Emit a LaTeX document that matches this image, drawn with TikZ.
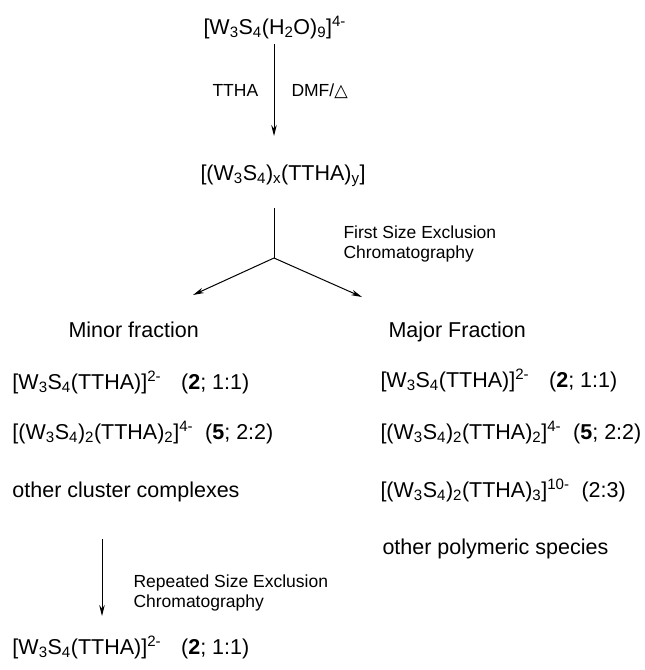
\documentclass[tikz,border=0pt]{standalone}
\usepackage{fontspec}
\setmainfont{Liberation Sans}
\newfontfamily\symfont{DejaVu Sans}
\usetikzlibrary{arrows.meta}

\newcommand{\chsub}[1]{\textsubscript{#1}}
\newcommand{\chsup}[1]{\textsuperscript{#1}}

\tikzset{
  txt/.style={anchor=base west, inner sep=0pt},
  lbl/.style={txt, font=\fontsize{17.5}{20}\selectfont},
  arr/.style={-{Stealth[length=11pt,width=5.5pt]}}
}

\begin{document}
\begin{tikzpicture}[x=1pt, y=-1pt, font=\fontsize{21.5}{25}\selectfont, line width=1pt]
  \useasboundingbox (0,0) rectangle (645,670);

  % reaction
  \node[txt] (aqua) at (203,34) {[W\chsub{3}S\chsub{4}(H\chsub{2}O)\chsub{9}]\chsup{4-}};
  \coordinate (react) at (274,44);
  \coordinate (formed) at (274,136);
  \draw[arr] (react) -- (formed);
  \node[lbl] (ligand) at (212,96) {TTHA};
  \node[lbl] (cond) at (291,96) {DMF/{\symfont △}};

  \node[txt] (mix) at (200,180) {[(W\chsub{3}S\chsub{4})\chsub{x}(TTHA)\chsub{y}]};

  % first separation
  \coordinate (stem) at (274,208);
  \coordinate (fork) at (274,258);
  \coordinate (tominor) at (193,295);
  \coordinate (tomajor) at (362,297);
  \draw (stem) -- (fork);
  \draw[arr] (fork) -- (tominor);
  \draw[arr] (fork) -- (tomajor);
  \node[lbl] (sec1a) at (343,238) {First Size Exclusion};
  \node[lbl] (sec1b) at (343,258) {Chromatography};

  % minor fraction
  \node[txt] (minor) at (68,337) {Minor fraction};
  \node[txt] (mi1) at (12,389) {[W\chsub{3}S\chsub{4}(TTHA)]\chsup{2-}\hspace{20pt}(\textbf{2}; 1:1)};
  \node[txt] (mi2) at (12,439) {[(W\chsub{3}S\chsub{4})\chsub{2}(TTHA)\chsub{2}]\chsup{4-}\hspace{12pt}(\textbf{5}; 2:2)};
  \node[txt] (mi3) at (12,497) {other cluster complexes};

  % major fraction
  \node[txt] (major) at (388,337) {Major Fraction};
  \node[txt] (ma1) at (380,387) {[W\chsub{3}S\chsub{4}(TTHA)]\chsup{2-}\hspace{20pt}(\textbf{2}; 1:1)};
  \node[txt] (ma2) at (380,439) {[(W\chsub{3}S\chsub{4})\chsub{2}(TTHA)\chsub{2}]\chsup{4-}\hspace{12pt}(\textbf{5}; 2:2)};
  \node[txt] (ma3) at (380,497) {[(W\chsub{3}S\chsub{4})\chsub{2}(TTHA)\chsub{3}]\chsup{10-}\hspace{12pt}(2:3)};
  \node[txt] (ma4) at (382,554) {other polymeric species};

  % second separation
  \coordinate (again) at (102,539);
  \coordinate (pure) at (102,616);
  \draw[arr] (again) -- (pure);
  \node[lbl] (sec2a) at (133,587) {Repeated Size Exclusion};
  \node[lbl] (sec2b) at (133,607) {Chromatography};

  \node[txt] (final) at (12,654) {[W\chsub{3}S\chsub{4}(TTHA)]\chsup{2-}\hspace{20pt}(\textbf{2}; 1:1)};
\end{tikzpicture}
\end{document}
